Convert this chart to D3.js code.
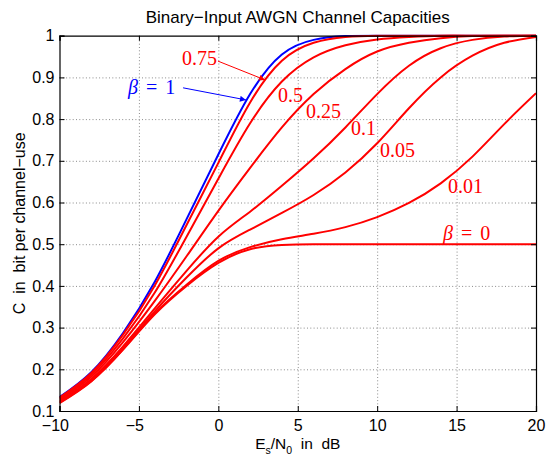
<!DOCTYPE html>
<html>
<head>
<meta charset="utf-8">
<script src="https://cdn.jsdelivr.net/npm/d3@7/dist/d3.min.js"></script>
<style>
    body { margin: 0; background: #fff; }
    svg text { font-family: "Liberation Sans", Arial, sans-serif; }
    .note { font-family: "Liberation Serif", "DejaVu Serif", serif; font-size: 20px; }
</style>
</head>
<body>
<svg id="chart" width="546" height="454"></svg>
<script>
// Es/N0 in dB, sample points
const snrDb = [-10, -8, -6, -4, -2, 0, 2, 4, 6, 8, 10, 12, 14, 16, 18, 20]

// capacity (bit per channel use) for each beta
const capBeta1    = [0.133, 0.193, 0.287, 0.410, 0.560, 0.715, 0.860, 0.955, 0.990, 0.999, 1, 1, 1, 1, 1, 1]
const capBeta075  = [0.132, 0.191, 0.283, 0.401, 0.546, 0.695, 0.840, 0.940, 0.983, 0.997, 1, 1, 1, 1, 1, 1]
const capBeta05   = [0.130, 0.187, 0.274, 0.384, 0.518, 0.657, 0.790, 0.890, 0.948, 0.977, 0.991, 0.997, 1, 1, 1, 1]
const capBeta025  = [0.127, 0.182, 0.265, 0.364, 0.471, 0.580, 0.683, 0.780, 0.860, 0.920, 0.962, 0.983, 0.994, 0.999, 1, 1]
const capBeta01   = [0.124, 0.177, 0.255, 0.346, 0.436, 0.518, 0.578, 0.640, 0.706, 0.780, 0.860, 0.928, 0.970, 0.990, 0.998, 1]
const capBeta005  = [0.122, 0.175, 0.251, 0.339, 0.420, 0.490, 0.535, 0.575, 0.618, 0.672, 0.742, 0.826, 0.900, 0.952, 0.983, 0.997]
const capBeta001  = [0.120, 0.172, 0.248, 0.334, 0.403, 0.460, 0.493, 0.512, 0.525, 0.541, 0.565, 0.599, 0.646, 0.710, 0.788, 0.862]
const capBeta0    = [0.119, 0.171, 0.247, 0.332, 0.400, 0.455, 0.488, 0.498, 0.500, 0.500, 0.500, 0.500, 0.500, 0.500, 0.500, 0.500]

const xTicks = [-10, -5, 0, 5, 10, 15, 20]
const yTicks = [0.1, 0.2, 0.3, 0.4, 0.5, 0.6, 0.7, 0.8, 0.9, 1]

// curve labels, placed in data units (Es/N0, C)
const noteText = ['0.75', '0.5', '0.25', '0.1', '0.05', '0.01']
const noteAt   = [[-2.29, 0.930], [3.76, 0.841], [5.52, 0.803], [8.36, 0.762], [10.18, 0.709], [14.46, 0.623]]

const BLUE = '#0000ff'
const RED = '#ff0000'

const series = [
    {name: '1', color: BLUE, values: capBeta1},
    {name: '0.75', color: RED, values: capBeta075},
    {name: '0.5', color: RED, values: capBeta05},
    {name: '0.25', color: RED, values: capBeta025},
    {name: '0.1', color: RED, values: capBeta01},
    {name: '0.05', color: RED, values: capBeta005},
    {name: '0.01', color: RED, values: capBeta001},
    {name: '0', color: RED, values: capBeta0}
]

const margin = {top: 35.7, right: 10, bottom: 43, left: 59.5}
const width = 546 - margin.left - margin.right
const height = 454 - margin.top - margin.bottom

const svg = d3.select('#chart')
const g = svg.append('g').attr('transform', `translate(${margin.left},${margin.top})`)

const x = d3.scaleLinear().domain([-10, 20]).range([0, width])
const y = d3.scaleLinear().domain([0.1, 1]).range([height, 0])

const fmt = (d) => d < 0 ? '\u2212' + Math.abs(d) : String(d)

const defs = svg.append('defs')
defs.append('clipPath').attr('id', 'plotArea')
    .append('rect')
    .attr('x', 0).attr('y', -1.5)
    .attr('width', width).attr('height', height + 1.5)

// dotted grid
g.append('g')
    .attr('class', 'grid')
    .attr('transform', `translate(0,${height})`)
    .call(d3.axisBottom(x).tickValues(xTicks.slice(1, -1)).tickSize(-height).tickFormat(''))
g.append('g')
    .attr('class', 'grid')
    .call(d3.axisLeft(y).tickValues(yTicks.slice(1, -1)).tickSize(-width).tickFormat(''))
g.selectAll('.grid .domain').remove()
g.selectAll('.grid line')
    .attr('stroke', '#8a8a8a')
    .attr('stroke-width', 1)
    .attr('stroke-dasharray', '1,2.3')

// curves
const line = d3.line()
    .x((d) => x(d[0]))
    .y((d) => y(d[1]))
    .curve(d3.curveNatural)

g.append('g')
    .attr('clip-path', 'url(#plotArea)')
    .selectAll('.curve')
    .data(series)
    .enter().append('path')
    .attr('class', 'curve')
    .attr('fill', 'none')
    .attr('stroke', (d) => d.color)
    .attr('stroke-width', 2)
    .attr('d', (d) => line(snrDb.map((s, i) => [s, d.values[i]])))

// axes, ticks pointing inward like matlab
const tick = 5
g.append('g')
    .attr('class', 'axis')
    .attr('transform', `translate(0,${height})`)
    .call(d3.axisBottom(x).tickValues(xTicks).tickSize(-tick).tickPadding(9).tickFormat(fmt))
g.append('g')
    .attr('class', 'axis')
    .call(d3.axisLeft(y).tickValues(yTicks).tickSize(-tick).tickPadding(5).tickFormat(fmt))
g.append('g')
    .attr('class', 'axis')
    .call(d3.axisTop(x).tickValues(xTicks).tickSize(-tick).tickFormat(''))
g.append('g')
    .attr('class', 'axis')
    .attr('transform', `translate(${width},0)`)
    .call(d3.axisRight(y).tickValues(yTicks).tickSize(-tick).tickFormat(''))
g.selectAll('.axis path').attr('stroke', '#000').attr('stroke-width', 1.2)
g.selectAll('.axis line').attr('stroke', '#000')
g.selectAll('.axis text').attr('font-size', 16).attr('fill', '#000')
// matlab centres the digits, the minus sign hangs out to the left
g.selectAll('.axis text').filter((d) => d < 0).attr('dx', '-0.29em')

// title and axis labels
svg.append('text')
    .attr('x', margin.left + width / 2)
    .attr('y', 23)
    .attr('text-anchor', 'middle')
    .attr('font-size', 17)
    .text('Binary\u2212Input AWGN Channel Capacities')

svg.append('text')
    .attr('transform', `translate(25,${margin.top + height / 2}) rotate(-90)`)
    .attr('text-anchor', 'middle')
    .attr('font-size', 16)
    .style('white-space', 'pre')
    .text('C  in  bit per channel\u2212use')

const xl = svg.append('text')
    .attr('x', margin.left + width / 2)
    .attr('y', 449)
    .attr('text-anchor', 'middle')
    .attr('font-size', 15.5)
    .style('white-space', 'pre')
xl.append('tspan').text('E')
xl.append('tspan').attr('font-size', 10.5).attr('dy', 4.5).text('s')
xl.append('tspan').attr('dy', -4.5).text('/N')
xl.append('tspan').attr('font-size', 10.5).attr('dy', 4.5).text('0')
xl.append('tspan').attr('dy', -4.5).text('  in  dB')

// arrows and curve labels
;[['headRed', RED], ['headBlue', BLUE]].forEach(([id, c]) => {
    defs.append('marker')
        .attr('id', id)
        .attr('viewBox', '0 0 10 10')
        .attr('refX', 10).attr('refY', 5)
        .attr('markerWidth', 8).attr('markerHeight', 6)
        .attr('markerUnits', 'userSpaceOnUse')
        .attr('orient', 'auto')
        .append('path')
        .attr('d', 'M0,0L10,5L0,10z')
        .attr('fill', c)
})

const arrows = [
    {from: [-0.02, 0.939], to: [2.94, 0.894], color: RED, head: 'headRed'},
    {from: [-2.22, 0.875], to: [1.74, 0.846], color: BLUE, head: 'headBlue'}
]
g.selectAll('.arrow')
    .data(arrows)
    .enter().append('line')
    .attr('class', 'arrow')
    .attr('x1', (d) => x(d.from[0])).attr('y1', (d) => y(d.from[1]))
    .attr('x2', (d) => x(d.to[0])).attr('y2', (d) => y(d.to[1]))
    .attr('stroke', (d) => d.color)
    .attr('stroke-width', 1)
    .attr('marker-end', (d) => `url(#${d.head})`)

g.selectAll('.note-num')
    .data(noteText)
    .enter().append('text')
    .attr('class', 'note')
    .attr('x', (d, i) => x(noteAt[i][0]))
    .attr('y', (d, i) => y(noteAt[i][1]))
    .attr('fill', RED)
    .text((d) => d)

const betaNote = (e, c, val, color) => {
    const t = g.append('text').attr('class', 'note')
        .attr('x', x(e)).attr('y', y(c)).attr('fill', color)
    t.append('tspan').attr('font-style', 'italic').text('\u03b2')
    t.append('tspan').attr('dx', 8).text('=')
    t.append('tspan').attr('dx', 8).text(val)
}
betaNote(-5.69, 0.86, '1', BLUE)
betaNote(14.15, 0.51, '0', RED)
</script>
</body>
</html>
